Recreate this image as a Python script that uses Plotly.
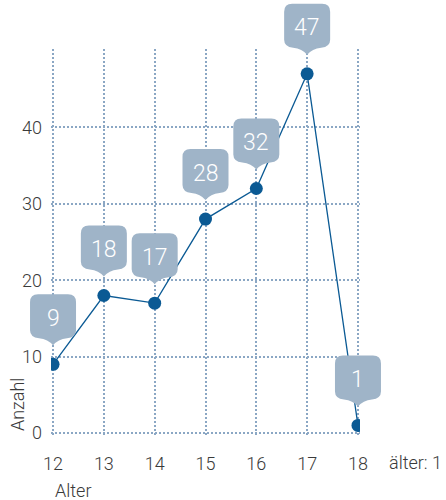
import plotly.graph_objects as go

ages = [12, 13, 14, 15, 16, 17, 18]
counts = [9, 18, 17, 28, 32, 47, 1]
x_ticks = [12, 13, 14, 15, 16, 17, 18]
y_ticks = [0, 10, 20, 30, 40]

FONT = "Roboto, sans-serif"
LINE = "#0b5a94"
BUBBLE = "#9fb4c8"
GRID = "#8ba7c4"
TEXT = "#3a3a3a"

X_RANGE = [11.96, 18.04]
Y_RANGE = [-0.25, 50.25]

fig = go.Figure()
fig.add_trace(go.Scatter(
    x=ages, y=counts, mode="lines+markers",
    line=dict(color=LINE, width=1.3),
    marker=dict(color=LINE, size=13),
    hoverinfo="skip", showlegend=False,
))

callout = ("M -23,62 Q -23,70 -15,70 L 15,70 Q 23,70 23,62 L 23,34 "
           "Q 23,27 14,26 Q 5,25 0,19 Q -5,25 -14,26 Q -23,27 -23,34 Z")


def to_paper(v, rng):
    return (v - rng[0]) / (rng[1] - rng[0])


shapes = []
annotations = []
for a, c in zip(ages, counts):
    px, py = to_paper(a, X_RANGE), to_paper(c, Y_RANGE)
    shapes.append(dict(type="path", xref="paper", yref="paper", xsizemode="pixel", ysizemode="pixel",
                       xanchor=px, yanchor=py, path=callout, fillcolor=BUBBLE,
                       line=dict(width=0), layer="above"))
    annotations.append(dict(x=px, y=py, xref="paper", yref="paper", text=str(c), showarrow=False,
                            yshift=46, font=dict(family=FONT, size=23, color="white", weight=300),
                            xanchor="center", yanchor="middle"))

annotations += [
    dict(text="Anzahl", xref="paper", yref="paper", x=-0.11, y=0.005, xanchor="center",
         yanchor="bottom", textangle=-90, showarrow=False,
         font=dict(family=FONT, size=18, color=TEXT, weight=300)),
    dict(text="Alter", xref="paper", yref="paper", x=0.0065, y=-0.145, xanchor="left",
         yanchor="middle", showarrow=False, font=dict(family=FONT, size=18, color=TEXT, weight=300)),
    dict(text="älter: 1", xref="paper", yref="paper", x=1.086, y=-0.0725, xanchor="left",
         yanchor="middle", showarrow=False, font=dict(family=FONT, size=18, color=TEXT, weight=300)),
]

axis_common = dict(showgrid=True, gridcolor=GRID, griddash="2px,2px", gridwidth=1.5,
                   zeroline=False, showline=False, ticks="", fixedrange=True,
                   tickfont=dict(family=FONT, size=18, color=TEXT, weight=300))

fig.update_layout(
    width=446, height=500,
    margin=dict(l=51, r=86, t=49, b=65, autoexpand=False),
    paper_bgcolor="white", plot_bgcolor="white",
    font=dict(family=FONT, size=18, color=TEXT),
    shapes=shapes, annotations=annotations,
    xaxis=dict(range=X_RANGE, tickmode="array", tickvals=x_ticks, ticklabelstandoff=16, **axis_common),
    yaxis=dict(range=Y_RANGE, tickmode="array", tickvals=y_ticks, ticklabelstandoff=8, **axis_common),
)
fig.write_html("out.html", config={"displayModeBar": False},
               post_script="document.body.style.margin='0';")
